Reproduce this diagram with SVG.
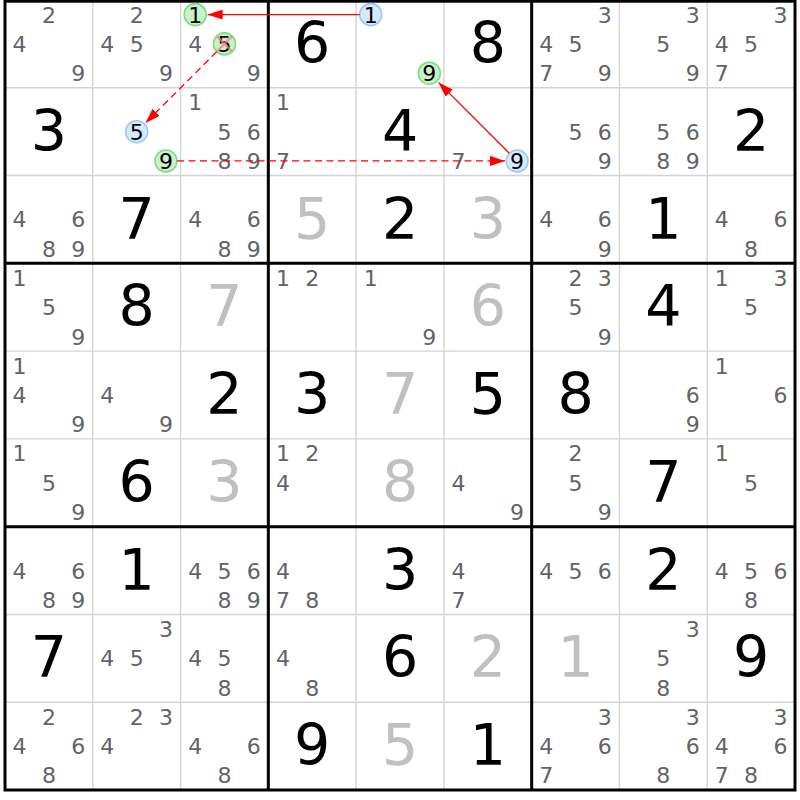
<svg xmlns="http://www.w3.org/2000/svg" width="800" height="800" viewBox="0 0 800 800">
<style>
text{font-family:"DejaVu Sans","Liberation Sans",sans-serif;text-anchor:middle}
.c{font-size:22px;fill:#626268}
.h{font-size:22px;fill:#000}
.g{font-size:57px;fill:#000}
.s{font-size:57px;fill:#c0c0c0}
.thin{stroke:#d4d4d4;stroke-width:1.4}
.thick{stroke:#000;stroke-width:3;fill:none}
.cg{fill:#c9f2c9;stroke:#7edc86;stroke-width:1.6}
.cb{fill:#d6eaff;stroke:#9cc9f5;stroke-width:1.6}
.x{stroke:#ff7a7a;stroke-width:2.2;stroke-opacity:0.75}
.ln{stroke:#ff0000;stroke-width:1.3;fill:none}
.dash{stroke-dasharray:7,4.5}
</style>
<defs>
<marker id="ah" markerUnits="userSpaceOnUse" markerWidth="15" markerHeight="10" refX="15" refY="5" orient="auto">
<path d="M0,0 L15,5 L0,10 z" fill="#ff0000"/>
</marker>
</defs>
<rect x="0" y="0" width="800" height="800" fill="#fff"/>
<g id="grid">
<path class="thin" d="M92.78,0V790M180.56,0V790M356.11,0V790M443.89,0V790M619.44,0V790M707.22,0V790M5,87.78H795M5,175.56H795M5,351.11H795M5,438.89H795M5,614.44H795M5,702.22H795"/>
<path class="thick" d="M268.33,0V790M531.67,0V790M5,263.33H795M5,526.67H795"/>
<rect class="thick" x="5" y="1.2" width="790" height="788.8"/>
</g>

<!-- Row 0 -->
<g id="r0c0" transform="translate(5,0)"><text class="c" x="43.9" y="22.6">2</text><text class="c" x="14.6" y="51.9">4</text><text class="c" x="73.2" y="81.2">9</text></g>
<g id="r0c1" transform="translate(92.78,0)"><text class="c" x="43.9" y="22.6">2</text><text class="c" x="14.6" y="51.9">4</text><text class="c" x="43.9" y="51.9">5</text><text class="c" x="73.2" y="81.2">9</text></g>
<g id="r0c2" transform="translate(180.56,0)"><circle class="cg" cx="14.6" cy="14.6" r="11"/><text class="h" x="14.6" y="22.6">1</text><text class="c" x="14.6" y="51.9">4</text><circle class="cg" cx="43.9" cy="43.9" r="11"/><text class="h" x="43.9" y="51.9">5</text><path class="x" d="M36.4,36.4L51.4,51.4M51.4,36.4L36.4,51.4"/><text class="c" x="73.2" y="81.2">9</text></g>
<g id="r0c3" transform="translate(268.33,0)"><text class="g" x="43.9" y="63">6</text></g>
<g id="r0c4" transform="translate(356.11,0)"><circle class="cb" cx="14.6" cy="14.6" r="11"/><text class="h" x="14.6" y="22.6">1</text><circle class="cg" cx="73.2" cy="73.2" r="11"/><text class="h" x="73.2" y="81.2">9</text></g>
<g id="r0c5" transform="translate(443.89,0)"><text class="g" x="43.9" y="63">8</text></g>
<g id="r0c6" transform="translate(531.67,0)"><text class="c" x="73.2" y="22.6">3</text><text class="c" x="14.6" y="51.9">4</text><text class="c" x="43.9" y="51.9">5</text><text class="c" x="14.6" y="81.2">7</text><text class="c" x="73.2" y="81.2">9</text></g>
<g id="r0c7" transform="translate(619.44,0)"><text class="c" x="73.2" y="22.6">3</text><text class="c" x="43.9" y="51.9">5</text><text class="c" x="73.2" y="81.2">9</text></g>
<g id="r0c8" transform="translate(707.22,0)"><text class="c" x="73.2" y="22.6">3</text><text class="c" x="14.6" y="51.9">4</text><text class="c" x="43.9" y="51.9">5</text><text class="c" x="14.6" y="81.2">7</text></g>

<!-- Row 1 -->
<g id="r1c0" transform="translate(5,87.78)"><text class="g" x="43.9" y="63">3</text></g>
<g id="r1c1" transform="translate(92.78,87.78)"><circle class="cb" cx="43.9" cy="43.9" r="11"/><text class="h" x="43.9" y="51.9">5</text><circle class="cg" cx="73.2" cy="73.2" r="11"/><text class="h" x="73.2" y="81.2">9</text></g>
<g id="r1c2" transform="translate(180.56,87.78)"><text class="c" x="14.6" y="22.6">1</text><text class="c" x="43.9" y="51.9">5</text><text class="c" x="73.2" y="51.9">6</text><text class="c" x="43.9" y="81.2">8</text><text class="c" x="73.2" y="81.2">9</text></g>
<g id="r1c3" transform="translate(268.33,87.78)"><text class="c" x="14.6" y="22.6">1</text><text class="c" x="14.6" y="81.2">7</text></g>
<g id="r1c4" transform="translate(356.11,87.78)"><text class="g" x="43.9" y="63">4</text></g>
<g id="r1c5" transform="translate(443.89,87.78)"><text class="c" x="14.6" y="81.2">7</text><circle class="cb" cx="73.2" cy="73.2" r="11"/><text class="h" x="73.2" y="81.2">9</text></g>
<g id="r1c6" transform="translate(531.67,87.78)"><text class="c" x="43.9" y="51.9">5</text><text class="c" x="73.2" y="51.9">6</text><text class="c" x="73.2" y="81.2">9</text></g>
<g id="r1c7" transform="translate(619.44,87.78)"><text class="c" x="43.9" y="51.9">5</text><text class="c" x="73.2" y="51.9">6</text><text class="c" x="43.9" y="81.2">8</text><text class="c" x="73.2" y="81.2">9</text></g>
<g id="r1c8" transform="translate(707.22,87.78)"><text class="g" x="43.9" y="63">2</text></g>

<!-- Row 2 -->
<g id="r2c0" transform="translate(5,175.56)"><text class="c" x="14.6" y="51.9">4</text><text class="c" x="73.2" y="51.9">6</text><text class="c" x="43.9" y="81.2">8</text><text class="c" x="73.2" y="81.2">9</text></g>
<g id="r2c1" transform="translate(92.78,175.56)"><text class="g" x="43.9" y="63">7</text></g>
<g id="r2c2" transform="translate(180.56,175.56)"><text class="c" x="14.6" y="51.9">4</text><text class="c" x="73.2" y="51.9">6</text><text class="c" x="43.9" y="81.2">8</text><text class="c" x="73.2" y="81.2">9</text></g>
<g id="r2c3" transform="translate(268.33,175.56)"><text class="s" x="43.9" y="63">5</text></g>
<g id="r2c4" transform="translate(356.11,175.56)"><text class="g" x="43.9" y="63">2</text></g>
<g id="r2c5" transform="translate(443.89,175.56)"><text class="s" x="43.9" y="63">3</text></g>
<g id="r2c6" transform="translate(531.67,175.56)"><text class="c" x="14.6" y="51.9">4</text><text class="c" x="73.2" y="51.9">6</text><text class="c" x="73.2" y="81.2">9</text></g>
<g id="r2c7" transform="translate(619.44,175.56)"><text class="g" x="43.9" y="63">1</text></g>
<g id="r2c8" transform="translate(707.22,175.56)"><text class="c" x="14.6" y="51.9">4</text><text class="c" x="73.2" y="51.9">6</text><text class="c" x="43.9" y="81.2">8</text></g>

<!-- Row 3 -->
<g id="r3c0" transform="translate(5,263.33)"><text class="c" x="14.6" y="22.6">1</text><text class="c" x="43.9" y="51.9">5</text><text class="c" x="73.2" y="81.2">9</text></g>
<g id="r3c1" transform="translate(92.78,263.33)"><text class="g" x="43.9" y="63">8</text></g>
<g id="r3c2" transform="translate(180.56,263.33)"><text class="s" x="43.9" y="63">7</text></g>
<g id="r3c3" transform="translate(268.33,263.33)"><text class="c" x="14.6" y="22.6">1</text><text class="c" x="43.9" y="22.6">2</text></g>
<g id="r3c4" transform="translate(356.11,263.33)"><text class="c" x="14.6" y="22.6">1</text><text class="c" x="73.2" y="81.2">9</text></g>
<g id="r3c5" transform="translate(443.89,263.33)"><text class="s" x="43.9" y="63">6</text></g>
<g id="r3c6" transform="translate(531.67,263.33)"><text class="c" x="43.9" y="22.6">2</text><text class="c" x="73.2" y="22.6">3</text><text class="c" x="43.9" y="51.9">5</text><text class="c" x="73.2" y="81.2">9</text></g>
<g id="r3c7" transform="translate(619.44,263.33)"><text class="g" x="43.9" y="63">4</text></g>
<g id="r3c8" transform="translate(707.22,263.33)"><text class="c" x="14.6" y="22.6">1</text><text class="c" x="73.2" y="22.6">3</text><text class="c" x="43.9" y="51.9">5</text></g>

<!-- Row 4 -->
<g id="r4c0" transform="translate(5,351.11)"><text class="c" x="14.6" y="22.6">1</text><text class="c" x="14.6" y="51.9">4</text><text class="c" x="73.2" y="81.2">9</text></g>
<g id="r4c1" transform="translate(92.78,351.11)"><text class="c" x="14.6" y="51.9">4</text><text class="c" x="73.2" y="81.2">9</text></g>
<g id="r4c2" transform="translate(180.56,351.11)"><text class="g" x="43.9" y="63">2</text></g>
<g id="r4c3" transform="translate(268.33,351.11)"><text class="g" x="43.9" y="63">3</text></g>
<g id="r4c4" transform="translate(356.11,351.11)"><text class="s" x="43.9" y="63">7</text></g>
<g id="r4c5" transform="translate(443.89,351.11)"><text class="g" x="43.9" y="63">5</text></g>
<g id="r4c6" transform="translate(531.67,351.11)"><text class="g" x="43.9" y="63">8</text></g>
<g id="r4c7" transform="translate(619.44,351.11)"><text class="c" x="73.2" y="51.9">6</text><text class="c" x="73.2" y="81.2">9</text></g>
<g id="r4c8" transform="translate(707.22,351.11)"><text class="c" x="14.6" y="22.6">1</text><text class="c" x="73.2" y="51.9">6</text></g>

<!-- Row 5 -->
<g id="r5c0" transform="translate(5,438.89)"><text class="c" x="14.6" y="22.6">1</text><text class="c" x="43.9" y="51.9">5</text><text class="c" x="73.2" y="81.2">9</text></g>
<g id="r5c1" transform="translate(92.78,438.89)"><text class="g" x="43.9" y="63">6</text></g>
<g id="r5c2" transform="translate(180.56,438.89)"><text class="s" x="43.9" y="63">3</text></g>
<g id="r5c3" transform="translate(268.33,438.89)"><text class="c" x="14.6" y="22.6">1</text><text class="c" x="43.9" y="22.6">2</text><text class="c" x="14.6" y="51.9">4</text></g>
<g id="r5c4" transform="translate(356.11,438.89)"><text class="s" x="43.9" y="63">8</text></g>
<g id="r5c5" transform="translate(443.89,438.89)"><text class="c" x="14.6" y="51.9">4</text><text class="c" x="73.2" y="81.2">9</text></g>
<g id="r5c6" transform="translate(531.67,438.89)"><text class="c" x="43.9" y="22.6">2</text><text class="c" x="43.9" y="51.9">5</text><text class="c" x="73.2" y="81.2">9</text></g>
<g id="r5c7" transform="translate(619.44,438.89)"><text class="g" x="43.9" y="63">7</text></g>
<g id="r5c8" transform="translate(707.22,438.89)"><text class="c" x="14.6" y="22.6">1</text><text class="c" x="43.9" y="51.9">5</text></g>

<!-- Row 6 -->
<g id="r6c0" transform="translate(5,526.67)"><text class="c" x="14.6" y="51.9">4</text><text class="c" x="73.2" y="51.9">6</text><text class="c" x="43.9" y="81.2">8</text><text class="c" x="73.2" y="81.2">9</text></g>
<g id="r6c1" transform="translate(92.78,526.67)"><text class="g" x="43.9" y="63">1</text></g>
<g id="r6c2" transform="translate(180.56,526.67)"><text class="c" x="14.6" y="51.9">4</text><text class="c" x="43.9" y="51.9">5</text><text class="c" x="73.2" y="51.9">6</text><text class="c" x="43.9" y="81.2">8</text><text class="c" x="73.2" y="81.2">9</text></g>
<g id="r6c3" transform="translate(268.33,526.67)"><text class="c" x="14.6" y="51.9">4</text><text class="c" x="14.6" y="81.2">7</text><text class="c" x="43.9" y="81.2">8</text></g>
<g id="r6c4" transform="translate(356.11,526.67)"><text class="g" x="43.9" y="63">3</text></g>
<g id="r6c5" transform="translate(443.89,526.67)"><text class="c" x="14.6" y="51.9">4</text><text class="c" x="14.6" y="81.2">7</text></g>
<g id="r6c6" transform="translate(531.67,526.67)"><text class="c" x="14.6" y="51.9">4</text><text class="c" x="43.9" y="51.9">5</text><text class="c" x="73.2" y="51.9">6</text></g>
<g id="r6c7" transform="translate(619.44,526.67)"><text class="g" x="43.9" y="63">2</text></g>
<g id="r6c8" transform="translate(707.22,526.67)"><text class="c" x="14.6" y="51.9">4</text><text class="c" x="43.9" y="51.9">5</text><text class="c" x="73.2" y="51.9">6</text><text class="c" x="43.9" y="81.2">8</text></g>

<!-- Row 7 -->
<g id="r7c0" transform="translate(5,614.44)"><text class="g" x="43.9" y="63">7</text></g>
<g id="r7c1" transform="translate(92.78,614.44)"><text class="c" x="73.2" y="22.6">3</text><text class="c" x="14.6" y="51.9">4</text><text class="c" x="43.9" y="51.9">5</text></g>
<g id="r7c2" transform="translate(180.56,614.44)"><text class="c" x="14.6" y="51.9">4</text><text class="c" x="43.9" y="51.9">5</text><text class="c" x="43.9" y="81.2">8</text></g>
<g id="r7c3" transform="translate(268.33,614.44)"><text class="c" x="14.6" y="51.9">4</text><text class="c" x="43.9" y="81.2">8</text></g>
<g id="r7c4" transform="translate(356.11,614.44)"><text class="g" x="43.9" y="63">6</text></g>
<g id="r7c5" transform="translate(443.89,614.44)"><text class="s" x="43.9" y="63">2</text></g>
<g id="r7c6" transform="translate(531.67,614.44)"><text class="s" x="43.9" y="63">1</text></g>
<g id="r7c7" transform="translate(619.44,614.44)"><text class="c" x="73.2" y="22.6">3</text><text class="c" x="43.9" y="51.9">5</text><text class="c" x="43.9" y="81.2">8</text></g>
<g id="r7c8" transform="translate(707.22,614.44)"><text class="g" x="43.9" y="63">9</text></g>

<!-- Row 8 -->
<g id="r8c0" transform="translate(5,702.22)"><text class="c" x="43.9" y="22.6">2</text><text class="c" x="14.6" y="51.9">4</text><text class="c" x="73.2" y="51.9">6</text><text class="c" x="43.9" y="81.2">8</text></g>
<g id="r8c1" transform="translate(92.78,702.22)"><text class="c" x="43.9" y="22.6">2</text><text class="c" x="73.2" y="22.6">3</text><text class="c" x="14.6" y="51.9">4</text></g>
<g id="r8c2" transform="translate(180.56,702.22)"><text class="c" x="14.6" y="51.9">4</text><text class="c" x="73.2" y="51.9">6</text><text class="c" x="43.9" y="81.2">8</text></g>
<g id="r8c3" transform="translate(268.33,702.22)"><text class="g" x="43.9" y="63">9</text></g>
<g id="r8c4" transform="translate(356.11,702.22)"><text class="s" x="43.9" y="63">5</text></g>
<g id="r8c5" transform="translate(443.89,702.22)"><text class="g" x="43.9" y="63">1</text></g>
<g id="r8c6" transform="translate(531.67,702.22)"><text class="c" x="73.2" y="22.6">3</text><text class="c" x="14.6" y="51.9">4</text><text class="c" x="73.2" y="51.9">6</text><text class="c" x="14.6" y="81.2">7</text></g>
<g id="r8c7" transform="translate(619.44,702.22)"><text class="c" x="73.2" y="22.6">3</text><text class="c" x="73.2" y="51.9">6</text><text class="c" x="43.9" y="81.2">8</text></g>
<g id="r8c8" transform="translate(707.22,702.22)"><text class="c" x="73.2" y="22.6">3</text><text class="c" x="14.6" y="51.9">4</text><text class="c" x="73.2" y="51.9">6</text><text class="c" x="14.6" y="81.2">7</text><text class="c" x="43.9" y="81.2">8</text></g>

<g id="connectors">
<path class="ln" d="M359.7,14.6L207.6,14.6" marker-end="url(#ah)"/>
<path class="ln dash" d="M216.7,51.7L145.5,122.9" marker-end="url(#ah)"/>
<path class="ln dash" d="M177,160.9L505,160.9" marker-end="url(#ah)"/>
<path class="ln" d="M509.3,153.2L438.5,82.4" marker-end="url(#ah)"/>
</g>
</svg>
